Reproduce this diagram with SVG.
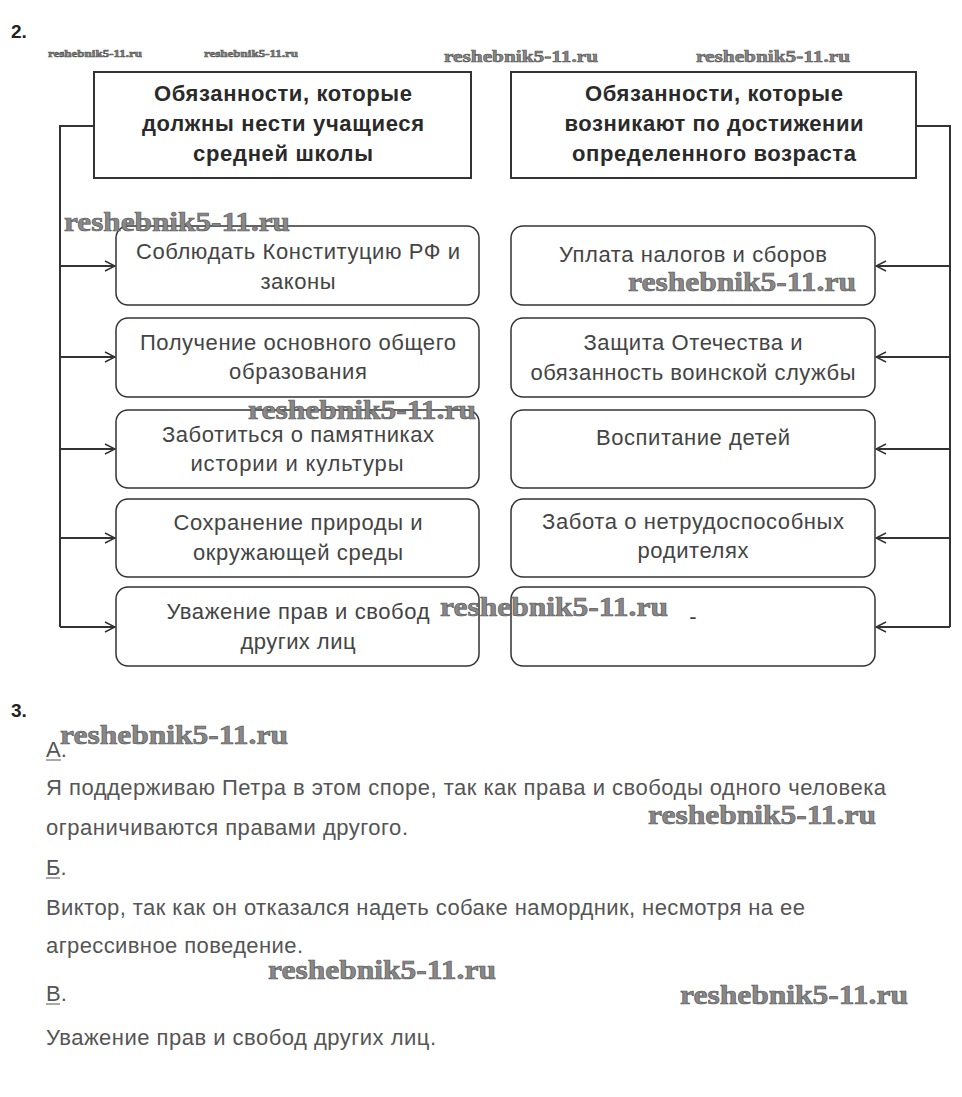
<svg xmlns="http://www.w3.org/2000/svg" width="962" height="1097" viewBox="0 0 962 1097">
<style>
.hdr{fill:#fff;stroke:#333;stroke-width:2}
.box{fill:#fff;stroke:#333;stroke-width:1.5}
.ht{font-family:"Liberation Sans",Arial,sans-serif;font-size:22px;font-weight:bold;fill:#2a2a2a;text-anchor:middle}
.it{font-family:"Liberation Sans",Arial,sans-serif;font-size:22px;fill:#444;text-anchor:middle}
.tx{font-family:"Liberation Sans",Arial,sans-serif;font-size:22px;fill:#555}
.num{font-family:"Liberation Sans",Arial,sans-serif;font-size:19px;font-weight:bold;fill:#222}
.wm{font-family:"Liberation Serif","Times New Roman",serif;font-weight:bold;fill:#888;stroke:#555;stroke-width:0.6}
.con{fill:none;stroke:#333;stroke-width:2}
</style>
<defs>
<marker id="arr" markerWidth="12" markerHeight="12" refX="11" refY="6" orient="auto" markerUnits="userSpaceOnUse">
<path d="M1,1 L11,6 L1,11" fill="none" stroke="#333" stroke-width="1.5"/>
</marker>
</defs>
<rect width="962" height="1097" fill="#fff"/>
<text class="num" x="11" y="38">2.</text>

<g id="connectors">
<path class="con" d="M94,126 H60 V627"/>
<path class="con" d="M60,266 H115" marker-end="url(#arr)"/>
<path class="con" d="M60,357 H115" marker-end="url(#arr)"/>
<path class="con" d="M60,449 H115" marker-end="url(#arr)"/>
<path class="con" d="M60,538 H115" marker-end="url(#arr)"/>
<path class="con" d="M60,627 H115" marker-end="url(#arr)"/>
<path class="con" d="M916,126 H950 V627"/>
<path class="con" d="M950,266 H876" marker-end="url(#arr)"/>
<path class="con" d="M950,357 H876" marker-end="url(#arr)"/>
<path class="con" d="M950,449 H876" marker-end="url(#arr)"/>
<path class="con" d="M950,538 H876" marker-end="url(#arr)"/>
<path class="con" d="M950,627 H876" marker-end="url(#arr)"/>
</g>

<g id="h1"><rect class="hdr" x="94" y="72" width="377" height="106"/>
<text class="ht" x="283" y="101" textLength="258" lengthAdjust="spacing">Обязанности, которые</text>
<text class="ht" x="283" y="131" textLength="282" lengthAdjust="spacing">должны нести учащиеся</text>
<text class="ht" x="283" y="161" textLength="180" lengthAdjust="spacing">средней школы</text></g>
<g id="h2"><rect class="hdr" x="511" y="72" width="405" height="106"/>
<text class="ht" x="714" y="101" textLength="258" lengthAdjust="spacing">Обязанности, которые</text>
<text class="ht" x="714" y="131" textLength="299" lengthAdjust="spacing">возникают по достижении</text>
<text class="ht" x="714" y="161" textLength="284" lengthAdjust="spacing">определенного возраста</text></g>

<g id="l1"><rect class="box" x="116" y="226" width="363" height="79" rx="12"/>
<text class="it" x="298" y="259" textLength="324" lengthAdjust="spacing">Соблюдать Конституцию РФ и</text>
<text class="it" x="298" y="289" textLength="75" lengthAdjust="spacing">законы</text></g>
<g id="l2"><rect class="box" x="116" y="318" width="363" height="79" rx="12"/>
<text class="it" x="298" y="350" textLength="316" lengthAdjust="spacing">Получение основного общего</text>
<text class="it" x="298" y="379" textLength="138" lengthAdjust="spacing">образования</text></g>
<g id="l3"><rect class="box" x="116" y="410" width="363" height="78" rx="12"/>
<text class="it" x="298" y="442" textLength="272" lengthAdjust="spacing">Заботиться о памятниках</text>
<text class="it" x="297" y="471" textLength="213" lengthAdjust="spacing">истории и культуры</text></g>
<g id="l4"><rect class="box" x="116" y="499" width="363" height="78" rx="12"/>
<text class="it" x="298" y="530" textLength="249" lengthAdjust="spacing">Сохранение природы и</text>
<text class="it" x="298" y="560" textLength="210" lengthAdjust="spacing">окружающей среды</text></g>
<g id="l5"><rect class="box" x="116" y="587" width="363" height="79" rx="12"/>
<text class="it" x="298" y="619" textLength="263" lengthAdjust="spacing">Уважение прав и свобод</text>
<text class="it" x="298" y="649" textLength="115" lengthAdjust="spacing">других лиц</text></g>

<g id="r1"><rect class="box" x="511" y="226" width="364" height="79" rx="12"/>
<text class="it" x="693" y="262" textLength="268" lengthAdjust="spacing">Уплата налогов и сборов</text></g>
<g id="r2"><rect class="box" x="511" y="318" width="364" height="79" rx="12"/>
<text class="it" x="693" y="350" textLength="219" lengthAdjust="spacing">Защита Отечества и</text>
<text class="it" x="693" y="380" textLength="325" lengthAdjust="spacing">обязанность воинской службы</text></g>
<g id="r3"><rect class="box" x="511" y="410" width="364" height="78" rx="12"/>
<text class="it" x="693" y="445" textLength="194" lengthAdjust="spacing">Воспитание детей</text></g>
<g id="r4"><rect class="box" x="511" y="499" width="364" height="78" rx="12"/>
<text class="it" x="693" y="529" textLength="302" lengthAdjust="spacing">Забота о нетрудоспособных</text>
<text class="it" x="693" y="558" textLength="111" lengthAdjust="spacing">родителях</text></g>
<g id="r5"><rect class="box" x="511" y="587" width="364" height="79" rx="12"/>
<text class="it" x="693" y="624">-</text></g>

<text class="num" x="11" y="717">3.</text>
<text class="tx" x="46" y="757">А.</text>
<line x1="46" y1="760" x2="61" y2="760" stroke="#555" stroke-width="1"/>
<text class="tx" x="46" y="795" textLength="840" lengthAdjust="spacing">Я поддерживаю Петра в этом споре, так как права и свободы одного человека</text>
<text class="tx" x="46" y="835" textLength="362" lengthAdjust="spacing">ограничиваются правами другого.</text>
<text class="tx" x="46" y="875">Б.</text>
<line x1="46" y1="878" x2="60" y2="878" stroke="#555" stroke-width="1"/>
<text class="tx" x="46" y="915" textLength="759" lengthAdjust="spacing">Виктор, так как он отказался надеть собаке намордник, несмотря на ее</text>
<text class="tx" x="46" y="953" textLength="257" lengthAdjust="spacing">агрессивное поведение.</text>
<text class="tx" x="46" y="1001">В.</text>
<line x1="46" y1="1004" x2="60" y2="1004" stroke="#555" stroke-width="1"/>
<text class="tx" x="46" y="1045" textLength="390" lengthAdjust="spacing">Уважение прав и свобод других лиц.</text>

<g id="watermarks">
<text class="wm" x="48" y="57" font-size="11" textLength="94" lengthAdjust="spacingAndGlyphs">reshebnik5-11.ru</text>
<text class="wm" x="204" y="57" font-size="11" textLength="94" lengthAdjust="spacingAndGlyphs">reshebnik5-11.ru</text>
<text class="wm" x="444" y="62" font-size="17" textLength="154" lengthAdjust="spacingAndGlyphs">reshebnik5-11.ru</text>
<text class="wm" x="696" y="62" font-size="17" textLength="154" lengthAdjust="spacingAndGlyphs">reshebnik5-11.ru</text>
<text class="wm" x="64" y="231" font-size="27" textLength="226" lengthAdjust="spacingAndGlyphs">reshebnik5-11.ru</text>
<text class="wm" x="628" y="291" font-size="27" textLength="228" lengthAdjust="spacingAndGlyphs">reshebnik5-11.ru</text>
<text class="wm" x="248" y="419" font-size="27" textLength="228" lengthAdjust="spacingAndGlyphs">reshebnik5-11.ru</text>
<text class="wm" x="440" y="616" font-size="27" textLength="228" lengthAdjust="spacingAndGlyphs">reshebnik5-11.ru</text>
<text class="wm" x="60" y="744" font-size="27" textLength="228" lengthAdjust="spacingAndGlyphs">reshebnik5-11.ru</text>
<text class="wm" x="648" y="824" font-size="27" textLength="228" lengthAdjust="spacingAndGlyphs">reshebnik5-11.ru</text>
<text class="wm" x="268" y="979" font-size="27" textLength="228" lengthAdjust="spacingAndGlyphs">reshebnik5-11.ru</text>
<text class="wm" x="680" y="1004" font-size="27" textLength="228" lengthAdjust="spacingAndGlyphs">reshebnik5-11.ru</text>
</g>
</svg>
